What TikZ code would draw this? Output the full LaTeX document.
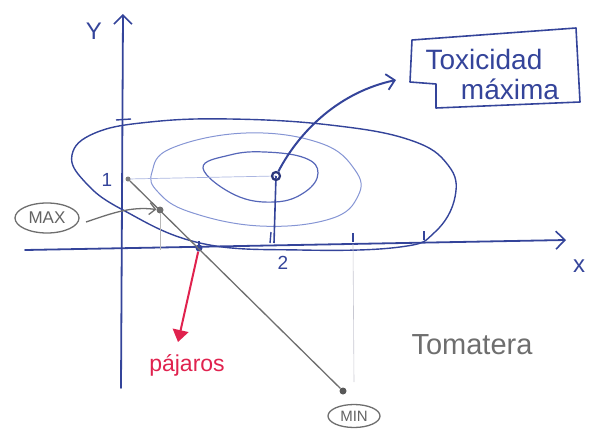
\documentclass[tikz,border=0pt]{standalone}
\usepackage{fontspec}
\setmainfont{Liberation Sans}
\usetikzlibrary{arrows.meta,shapes.geometric}
\definecolor{ink}{HTML}{34449A}
\definecolor{lightink}{HTML}{8595D4}
\definecolor{midink}{HTML}{5566B8}
\definecolor{pencil}{HTML}{6E6E6E}
\definecolor{faint}{HTML}{C8C8D2}
\definecolor{redink}{HTML}{E0224E}
\begin{document}
\begin{tikzpicture}[x=1pt,y=-1pt,
  axis/.style={draw=ink,line width=1.8pt,line cap=round,-{Straight Barb[length=9pt,width=18pt,line width=1.6pt]}},
  tickmark/.style={draw=ink,line width=1.4pt},
  lbl/.style={text=ink,inner sep=0pt},
  dot/.style={circle,fill=#1,inner sep=0pt,minimum size=6pt},
  tag/.style={draw=pencil,line width=1.3pt,ellipse,inner sep=0pt,text=pencil!90!black}]
\useasboundingbox (0,0) rectangle (600,431);

% contour ellipses
\draw[ink,line width=1.4pt] plot[smooth cycle,tension=0.7] coordinates {
  (72,155) (95,133) (150,122) (230,119) (330,125) (410,140) (448,165)
  (455,197) (435,232) (400,247) (300,250) (200,243) (123,210) (85,182)};
\draw[lightink,line width=1pt] plot[smooth cycle,tension=0.7] coordinates {
  (152,172) (172,148) (246,133) (320,143) (355,170) (358,196) (330,219)
  (260,226) (190,212) (158,192)};
\draw[midink,line width=1.2pt] plot[smooth cycle,tension=0.7] coordinates {
  (203,168) (230,155) (265,152) (305,158) (318,173) (305,192) (275,202) (235,195)};

% axes
\coordinate (xstart) at (25,250);
\coordinate (xend) at (566,240);
\coordinate (ystart) at (121,388);
\coordinate (yend) at (123,14);
\draw[axis] (xstart) -- (xend);
\draw[axis] (ystart) -- (yend);
\node[lbl,font=\fontsize{24}{24}\selectfont] (ylab) at (94,31) {Y};
\node[lbl,font=\fontsize{24}{24}\selectfont] (xlab) at (579,266) {x};
\node[lbl,font=\fontsize{19}{19}\selectfont] (one) at (107,180) {1};
\node[lbl,font=\fontsize{19}{19}\selectfont] (two) at (283,263) {2};

% ticks
\draw[tickmark] (116,120) -- (131,119);
\draw[tickmark] (353,233) -- (353,242);
\draw[tickmark] (424,231) -- (424,240);

% faint guide lines
\coordinate (peak) at (276,176);
\coordinate (peakfoot) at (274,243);
\coordinate (yone) at (128,179);
\draw[lightink!70,line width=0.7pt] (yone) -- (peak);
\draw[ink,line width=1.6pt] (peak) -- (peakfoot);
\draw[ink,line width=1.4pt] (270,243) -- (271,232);
\coordinate (minguide) at (353,244);
\coordinate (minguideend) at (354,382);
\draw[faint,line width=0.6pt] (minguide) -- (minguideend);

% grey line MAX-MIN
\node[dot=pencil!90,minimum size=5pt] (ptone) at (yone) {};
\node[dot=pencil,minimum size=7pt] (maxpt) at (160,210) {};
\node[dot=pencil!80!black,minimum size=7pt] (minpt) at (343,391) {};
\node[dot=ink,minimum size=7pt] (cross) at (199,248) {};
\draw[pencil,line width=1.3pt] (ptone) -- (minpt);
\coordinate (maxfoot) at (160,250);
\draw[pencil!50,line width=0.8pt] (maxpt) -- (maxfoot);
\draw[ink,line width=1.2pt] (199,241) -- (199,248);

% max / min tags
\node[tag,minimum width=64pt,minimum height=30pt,font=\fontsize{17}{17}\selectfont] (maxtag) at (47,218) {MAX};
\draw[pencil,line width=1.3pt,-{Straight Barb[length=6pt,width=12pt]}]
  (86,222) .. controls (110,214) and (130,206) .. (maxpt);
\node[tag,minimum width=52pt,minimum height=23pt,font=\fontsize{15}{15}\selectfont] (mintag) at (354,416) {MIN};

% red arrow
\coordinate (redtip) at (178,342);
\draw[redink,line width=2pt,-{Triangle[length=12pt,width=16pt]}] (cross) -- (redtip);
\node[text=redink,inner sep=0pt,font=\fontsize{23}{23}\selectfont] (pajaros) at (187,365) {pájaros};

% tomatera
\node[text=pencil,inner sep=0pt,font=\fontsize{29}{29}\selectfont] (tomatera) at (472,345) {Tomatera};

% centre point and arrow to box
\node[circle,draw=ink!80!black,line width=2.2pt,inner sep=0pt,minimum size=8pt] (centre) at (peak) {};
\coordinate (arrowtip) at (396,80);
\draw[ink,line width=2pt,-{Straight Barb[length=8pt,width=16pt,line width=1.8pt]}]
  (centre) .. controls (300,130) and (340,92) .. (arrowtip);

% box
\draw[ink,line width=1.6pt,line join=round]
  (412,40) -- (576,28) -- (580,102) -- (436,108) -- (436,84) -- (410,82) -- cycle;
\node[lbl,font=\fontsize{28}{28}\selectfont] (tox) at (484,59) {Toxicidad};
\node[lbl,font=\fontsize{28}{28}\selectfont] (maxima) at (510,89) {máxima};
\end{tikzpicture}
\end{document}
